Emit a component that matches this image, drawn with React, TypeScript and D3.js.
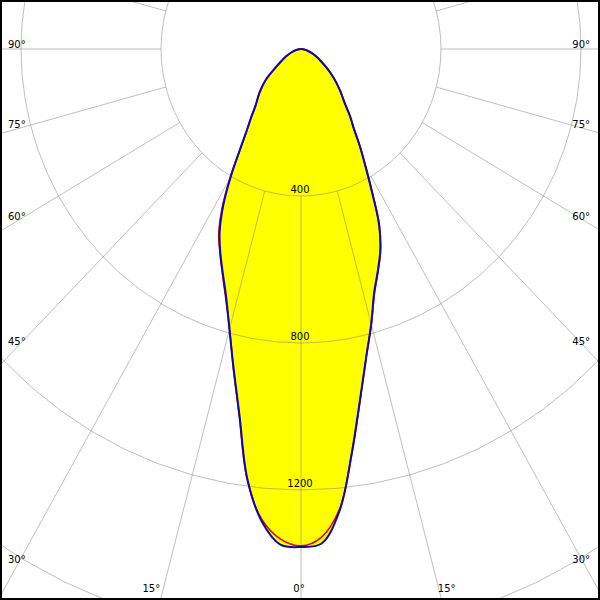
import React from "react";
import * as d3 from "d3";

// Polar luminous intensity diagram (cd)
const gammaDeg = [0, 2.5, 5, 7.5, 10, 12.5, 15, 17.5, 20, 22.5, 25, 27.5, 30, 32.5, 35, 37.5, 40, 45, 50, 55, 60, 65, 70, 75, 80, 85, 90];
const blueLeft = [1355, 1350, 1290, 1178, 1012, 890, 790, 710, 652, 602, 550, 482, 402, 325, 270, 234, 203, 168, 133, 90, 64, 47, 32, 21, 12, 5, 0];
const blueRight = [1355, 1347, 1262, 1110, 970, 860, 775, 695, 642, 592, 528, 440, 368, 312, 262, 230, 196, 156, 121, 90, 65, 48, 33, 21, 12, 5, 0];
const redLeft = [1352, 1335, 1285, 1180, 1015, 892, 788, 714, 655, 604, 556, 488, 405, 322, 268, 232, 202, 166, 131, 89, 63, 46, 31, 20, 11, 5, 0];
const redRight = [1352, 1330, 1258, 1112, 972, 860, 776, 698, 644, 594, 530, 442, 370, 314, 262, 230, 197, 157, 122, 91, 66, 48, 33, 21, 12, 5, 0];

const ringValues = [400, 800, 1200, 1600];
const ringLabels = ["400", "800", "1200"];
const sideAngles = [90, 75, 60, 45, 30];
const bottomAngles = [15, 0];

const W = 600;
const H = 600;
const cx = 301;
const cy = 49;
const rx = d3.scaleLinear().domain([0, 400]).range([0, 140]);
const ry = d3.scaleLinear().domain([0, 400]).range([0, 147]);
const rad = (d: number) => (d * Math.PI) / 180;

// angle measured from nadir, positive to the right
function pt(I: number, gDeg: number): [number, number] {
  const g = rad(gDeg);
  return [cx + rx(I) * Math.sin(g), cy + ry(I) * Math.cos(g)];
}

function planePoints(left: number[], right: number[]): [number, number][] {
  const pts: [number, number][] = [];
  gammaDeg.forEach((g, i) => pts.push(pt(right[i], g)));
  for (let i = gammaDeg.length - 2; i >= 1; i--) pts.push(pt(left[i], -gammaDeg[i]));
  return pts;
}

const FONT = "DejaVu Sans, Verdana, sans-serif";

export default function App() {
  const closed = d3.line().curve(d3.curveCatmullRomClosed.alpha(0.5));
  const ringLine = d3.line().curve(d3.curveLinearClosed);
  const bluePts = planePoints(blueLeft, blueRight);
  const redPts = planePoints(redLeft, redRight);

  const ringAngles = d3.range(0, 360, 5);
  const spokeAngles = d3.range(-180, 181, 15);

  const ratio = 147 / 140;
  const sideLabels: React.ReactNode[] = [];
  sideAngles.forEach((a) => {
    const y = cy + 283 * ratio * (Math.cos(rad(a)) / Math.sin(rad(a))) - 1;
    sideLabels.push(
      <text key={"l" + a} x={8} y={y} textAnchor="start">{a + "°"}</text>,
      <text key={"r" + a} x={590} y={y} textAnchor="end">{a + "°"}</text>
    );
  });
  bottomAngles.forEach((a) => {
    const dx = ((585 - cy) / ratio) * Math.tan(rad(a));
    if (a === 0) {
      sideLabels.push(<text key="b0" x={cx - 2} y={592} textAnchor="middle">0°</text>);
    } else {
      sideLabels.push(
        <text key={"bl" + a} x={cx - dx - 4} y={592} textAnchor="end">{a + "°"}</text>,
        <text key={"br" + a} x={cx + dx} y={592} textAnchor="start">{a + "°"}</text>
      );
    }
  });

  return (
    <svg width={W} height={H} style={{ position: "absolute", left: 0, top: 0, background: "#fff" }}>
      <rect x={0} y={0} width={W} height={H} fill="#fff" />
      <path d={closed(bluePts) || ""} fill="#ffff00" />
      <path d={closed(redPts) || ""} fill="#ffff00" />
      <g stroke="#808080" strokeOpacity={0.5} strokeWidth={1} fill="none">
        {ringValues.map((v) => (
          <path key={v} d={ringLine(ringAngles.map((a) => pt(v, a))) || ""} />
        ))}
        {spokeAngles.map((a) => {
          const p0 = pt(400, a);
          const p1 = pt(2200, a);
          return <line key={a} x1={p0[0]} y1={p0[1]} x2={p1[0]} y2={p1[1]} />;
        })}
      </g>
      <g fontFamily={FONT} fontSize={10} fill="#000">
        {ringLabels.map((l, i) => (
          <text key={l} x={cx - 1} y={pt(ringValues[i], 0)[1] - 3} textAnchor="middle">{l}</text>
        ))}
      </g>
      <path d={closed(redPts) || ""} fill="none" stroke="#e00000" strokeWidth={1.6} />
      <path d={closed(bluePts) || ""} fill="none" stroke="#0a0ab4" strokeWidth={2} />
      <g fontFamily={FONT} fontSize={10} fill="#000">{sideLabels}</g>
      <rect x={1} y={1} width={598} height={598} fill="none" stroke="#000" strokeWidth={2} />
    </svg>
  );
}
